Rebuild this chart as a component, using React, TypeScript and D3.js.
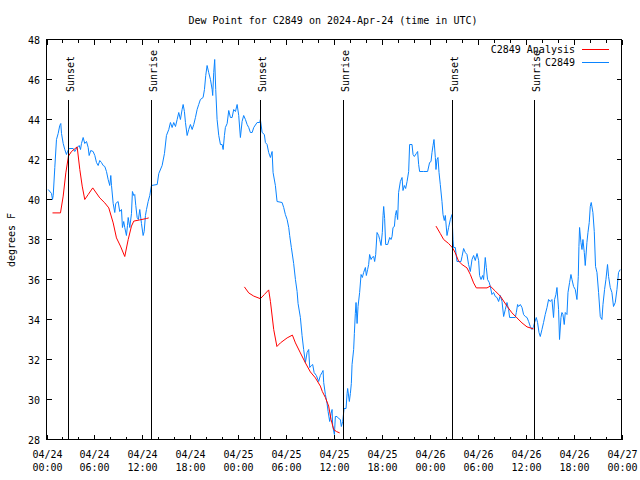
import React from "react";
import * as d3 from "d3";

// hours since 2024-04-24 00:00 UTC, dew point (F)
const stationSeries: [number, number][] = [
  [0.21,40.5],[0.63,40.3],[0.75,40.0],[0.84,40.2],[1.04,41.6],[1.25,43.0],[1.46,43.3],[1.66,43.7],[1.79,43.8],[1.88,43.3],
  [2.09,42.8],[2.29,42.5],[2.5,42.25],[2.63,42.4],[2.84,42.55],[3.34,42.55],[3.54,42.4],[3.84,42.6],[4.09,42.7],[4.26,42.5],
  [4.38,42.8],[4.59,43.1],[4.79,42.8],[5.01,42.9],[5.22,42.6],[5.34,42.2],[5.54,42.45],[5.84,42.4],[6.05,42.2],[6.26,41.85],
  [6.47,41.7],[6.67,41.95],[6.88,41.85],[7.1,41.7],[7.3,41.65],[7.51,41.4],[7.72,41.0],[7.92,40.7],[8.05,41.2],[8.14,40.7],
  [8.35,39.8],[8.55,39.35],[8.67,39.8],[8.97,39.9],[9.17,39.4],[9.39,39.5],[9.51,38.6],[9.67,38.9],[9.8,38.6],[10.01,38.2],
  [10.14,38.7],[10.23,39.1],[10.43,38.6],[10.64,39.3],[10.76,40.4],[10.93,40.2],[11.05,40.25],[11.18,39.7],[11.35,39.1],[11.51,39.0],
  [11.68,39.5],[11.89,38.8],[12.1,38.2],[12.23,38.4],[12.39,39.2],[12.52,39.5],[12.73,39.9],[12.93,40.2],[13.14,40.7],[13.86,40.75],
  [14.06,41.3],[14.48,41.7],[14.77,42.3],[15.02,43.2],[15.31,43.5],[15.52,43.85],[15.73,43.6],[15.93,43.85],[16.15,43.65],[16.36,44.0],
  [16.56,44.35],[16.77,44.0],[16.98,44.5],[17.11,44.75],[17.27,44.4],[17.4,43.85],[17.61,43.2],[17.81,43.5],[18.02,43.75],[18.24,43.5],
  [18.44,43.75],[18.65,44.1],[18.86,44.5],[19.06,44.75],[19.27,45.0],[19.61,45.1],[19.78,45.5],[19.94,46.2],[20.11,46.7],[20.31,46.35],
  [20.53,46.0],[20.74,45.5],[20.81,45.2],[20.94,46.35],[21.06,47.0],[21.19,45.5],[21.36,44.0],[21.57,43.2],[21.78,42.75],[21.99,42.75],
  [22.12,42.5],[22.28,43.2],[22.4,43.6],[22.62,43.8],[22.82,44.45],[23.03,44.1],[23.24,44.1],[23.44,44.5],[23.66,44.4],[23.87,44.75],
  [24.07,44.2],[24.28,43.1],[24.49,43.9],[24.69,44.2],[24.91,44.0],[25.12,43.75],[25.32,43.6],[25.53,43.35],[25.75,43.35],[25.95,43.6],
  [26.37,43.85],[26.7,43.85],[26.78,44.0],[27.0,43.35],[27.28,43.25],[27.41,42.85],[27.62,42.75],[27.82,42.35],[28.04,42.1],[28.25,42.4],
  [28.37,41.35],[28.66,40.7],[28.87,39.9],[29.5,39.85],[29.7,39.6],[29.91,39.25],[30.13,39.0],[30.33,38.6],[30.45,38.2],[30.66,37.6],
  [30.95,36.8],[31.17,36.0],[31.38,35.4],[31.5,34.8],[31.79,34.1],[32.0,33.2],[32.2,32.5],[32.42,31.85],[32.63,32.35],[32.83,32.5],
  [32.96,31.6],[33.17,31.7],[33.33,31.75],[33.51,31.35],[33.79,31.2],[34.08,30.9],[34.29,31.2],[34.5,31.35],[34.63,31.45],[34.71,30.85],
  [34.92,30.25],[35.13,29.8],[35.26,29.4],[35.46,28.9],[35.63,29.3],[35.76,29.5],[35.83,28.7],[36.05,28.25],[36.17,29.15],[36.38,29.15],
  [36.58,29.05],[36.8,29.0],[36.92,28.65],[37.09,28.9],[37.26,29.55],[37.51,29.55],[37.64,30.3],[37.71,30.55],[37.92,29.9],[38.05,30.3],
  [38.17,30.8],[38.26,31.75],[38.46,32.5],[38.55,33.3],[38.67,34.3],[38.76,34.85],[38.89,33.8],[39.01,34.65],[39.21,35.35],[39.39,36.25],
  [39.55,36.1],[39.71,36.35],[39.93,36.6],[40.05,36.2],[40.21,36.5],[40.34,36.75],[40.46,37.25],[40.64,37.0],[40.76,37.1],[40.97,37.15],
  [41.09,36.9],[41.22,37.25],[41.39,38.35],[41.59,38.2],[41.72,38.0],[41.89,37.7],[42.05,38.35],[42.14,39.2],[42.22,39.65],[42.34,39.05],
  [42.47,37.75],[42.72,37.75],[42.97,38.1],[43.14,38.0],[43.27,38.15],[43.39,38.6],[43.56,38.65],[43.68,39.2],[43.81,39.45],[43.97,39.0],
  [44.09,40.35],[44.31,40.9],[44.52,41.1],[44.64,40.45],[44.81,40.7],[44.97,40.55],[45.15,40.9],[45.35,41.4],[45.47,42.75],[45.77,42.75],
  [45.9,42.25],[46.06,42.15],[46.31,42.3],[46.47,42.4],[46.6,41.75],[46.72,41.4],[47.22,41.4],[47.72,41.4],[47.97,41.85],[48.15,41.9],
  [48.27,42.35],[48.4,42.7],[48.52,43.0],[48.69,42.1],[48.77,41.5],[48.9,42.0],[49.02,42.1],[49.15,41.35],[49.31,40.75],[49.52,39.9],
  [49.65,39.25],[49.81,38.95],[49.94,39.2],[50.15,38.2],[50.35,38.6],[50.57,39.0],[50.78,39.25],[50.9,38.0],[50.98,37.6],[51.19,37.6],
  [51.4,36.9],[51.9,36.9],[52.03,37.15],[52.23,37.55],[52.44,37.35],[52.65,37.25],[52.85,36.75],[53.07,36.4],[53.28,37.0],[53.48,37.2],
  [53.69,36.95],[53.91,37.3],[54.11,36.95],[54.23,36.2],[54.41,36.0],[54.61,36.2],[54.73,36.0],[54.94,37.1],[55.07,36.6],[55.23,36.0],
  [55.44,35.85],[55.57,35.65],[55.78,35.25],[55.98,35.35],[56.2,35.15],[56.41,35.1],[56.61,34.9],[56.82,35.2],[57.04,34.9],[57.24,34.15],
  [57.45,34.5],[57.66,34.85],[57.86,34.5],[57.99,34.1],[58.7,34.1],[58.83,34.35],[58.99,34.75],[59.11,34.65],[59.33,34.75],[59.54,34.6],
  [59.74,34.25],[59.95,34.15],[60.17,34.1],[60.37,33.9],[60.58,33.65],[60.79,33.5],[60.99,33.65],[61.12,33.85],[61.33,34.1],[61.49,33.85],
  [61.67,33.35],[61.83,33.15],[62.04,33.5],[62.24,33.85],[62.45,34.25],[62.67,34.6],[62.87,35.0],[63.08,34.9],[63.29,35.0],[63.49,34.1],
  [63.62,35.0],[63.79,35.25],[63.92,35.6],[64.12,34.5],[64.24,33.0],[64.42,34.1],[64.54,34.35],[64.67,34.25],[64.83,33.75],[64.96,34.35],
  [65.17,34.25],[65.3,35.35],[65.5,35.85],[65.67,36.25],[65.8,36.0],[66.0,35.65],[66.21,35.5],[66.42,35.0],[66.59,36.15],[66.67,37.65],
  [66.75,38.6],[66.92,37.85],[67.05,37.5],[67.17,38.0],[67.34,37.35],[67.46,36.7],[67.67,37.85],[67.8,38.35],[67.96,38.85],[68.09,39.65],
  [68.21,39.85],[68.42,39.35],[68.59,38.4],[68.75,36.65],[68.93,36.35],[69.13,35.35],[69.34,34.15],[69.55,34.0],[69.68,34.75],[69.88,35.5],
  [70.05,36.0],[70.25,36.75],[70.38,36.15],[70.59,35.6],[70.8,35.35],[71.0,34.65],[71.22,34.85],[71.43,35.5],[71.63,36.35],[71.84,36.5],
];

const analysisSeg1: [number, number][] = [
  [0.75,39.33],[1.75,39.33],[2.09,40.17],[2.42,41.33],[2.75,42.17],[3.13,42.4],[3.84,42.63],[4.17,41.5],[4.47,40.67],[4.79,40.0],
  [5.22,40.25],[5.79,40.58],[6.67,40.08],[7.3,39.83],[7.8,39.58],[8.35,38.83],[8.76,38.08],[9.26,37.67],[9.8,37.15],[10.23,38.0],
  [10.64,38.67],[10.93,38.92],[11.68,38.98],[12.52,39.05],[12.8,39.08],
];
const analysisSeg2: [number, number][] = [
  [24.78,35.63],[25.32,35.33],[25.95,35.17],[26.78,35.04],[27.28,35.25],[27.82,35.48],[28.04,34.9],[28.45,33.5],[28.85,32.65],[29.29,32.83],
  [30.13,33.08],[30.79,33.22],[31.17,32.83],[31.79,32.33],[32.42,31.83],[33.04,31.38],[33.67,31.08],[34.29,30.67],[34.54,30.4],[34.92,30.1],
  [35.33,29.67],[35.63,29.0],[35.96,28.5],[36.3,28.4],[36.71,28.33],
];
const analysisSeg3: [number, number][] = [
  [48.77,38.67],[49.31,38.3],[49.73,38.0],[50.35,37.8],[50.85,37.58],[51.19,37.33],[51.6,36.92],[52.03,36.75],[52.65,36.58],[53.07,36.25],
  [53.48,35.83],[53.82,35.58],[55.16,35.58],[55.57,35.67],[56.2,35.42],[56.82,35.17],[57.66,34.67],[58.29,34.33],[58.91,34.08],[59.54,33.83],
  [60.17,33.63],[60.99,33.53],
];

const sunsetHours = [2.75, 26.85, 50.85];
const sunriseHours = [13.18, 37.21, 61.14];
const yTicks = [28, 30, 32, 34, 36, 38, 40, 42, 44, 46, 48];

const titleText = "Dew Point for C2849 on 2024-Apr-24 (time in UTC)";
const yLabel = "degrees F";
const legendLabels = ["C2849 Analysis", "C2849"];

const t0 = Date.UTC(2024, 3, 24);
const toDate = (h: number) => new Date(t0 + h * 3600000);

const FONT = "'DejaVu Sans Mono', monospace";
const RED = "#ff0000";
const BLUE = "#0a84ff";

export default function App() {
  const left = 46.5, right = 621.5, top = 39.5, bottom = 439.5;
  const x = d3.scaleUtc().domain([toDate(0), toDate(72)]).range([left, right]);
  const y = d3.scaleLinear().domain([28, 48]).range([bottom, top]);
  const line = d3
    .line<[number, number]>()
    .x((d) => x(toDate(d[0])))
    .y((d) => y(d[1]));
  const major = x.ticks(d3.utcHour.every(6)!);
  const minor = x.ticks(d3.utcHour.every(2)!);
  const fmtD = d3.utcFormat("%m/%d");
  const fmtT = d3.utcFormat("%H:%M");
  const events = [
    ...sunsetHours.map((h) => ({ h, label: "Sunset" })),
    ...sunriseHours.map((h) => ({ h, label: "Sunrise" })),
  ];
  return (
    <svg width={640} height={480} style={{ position: "absolute", left: 0, top: 0, background: "#fff" }}
      fontFamily={FONT} fontSize={10}>
      <rect x={0} y={0} width={640} height={480} fill="#fff" />
      <text x={333} y={24} textAnchor="middle">{titleText}</text>
      <text transform={`translate(15,240) rotate(-90)`} textAnchor="middle">{yLabel}</text>
      {/* data */}
      <g fill="none" strokeWidth={1}>
        <path d={line(stationSeries) || ""} stroke={BLUE} />
        {[analysisSeg1, analysisSeg2, analysisSeg3].map((s, i) => (
          <path key={i} d={line(s) || ""} stroke={RED} />
        ))}
      </g>
      {/* event lines */}
      {events.map((e, i) => {
        const xx = Math.floor(x(toDate(e.h))) + 0.5;
        return (
          <g key={i}>
            <line x1={xx} x2={xx} y1={99.5} y2={bottom} stroke="#000" shapeRendering="crispEdges" />
            <text transform={`translate(${xx + 5},92) rotate(-90)`}>{e.label}</text>
          </g>
        );
      })}
      {/* frame */}
      <rect x={left} y={top} width={right - left} height={bottom - top} fill="none" stroke="#000" shapeRendering="crispEdges" />
      {/* y ticks */}
      {yTicks.map((v) => (
        <g key={v} shapeRendering="crispEdges">
          <line x1={left} x2={left + 5} y1={y(v)} y2={y(v)} stroke="#000" />
          <line x1={right - 5} x2={right} y1={y(v)} y2={y(v)} stroke="#000" />
          <text x={40} y={y(v) + 4} textAnchor="end">{v}</text>
        </g>
      ))}
      {/* x ticks */}
      {minor.map((d, i) => {
        const xx = Math.round(x(d)) + 0.5;
        return (
          <g key={"m" + i} shapeRendering="crispEdges">
            <line x1={xx} x2={xx} y1={bottom} y2={bottom - 3} stroke="#000" />
            <line x1={xx} x2={xx} y1={top} y2={top + 3} stroke="#000" />
          </g>
        );
      })}
      {major.map((d, i) => {
        const xx = Math.round(x(d)) + 0.5;
        return (
          <g key={"M" + i}>
            <line x1={xx} x2={xx} y1={bottom} y2={bottom - 5} stroke="#000" shapeRendering="crispEdges" />
            <line x1={xx} x2={xx} y1={top} y2={top + 5} stroke="#000" shapeRendering="crispEdges" />
            <text x={xx} y={458} textAnchor="middle">{fmtD(d)}</text>
            <text x={xx} y={471} textAnchor="middle">{fmtT(d)}</text>
          </g>
        );
      })}
      {/* legend */}
      <text x={575} y={53} textAnchor="end">{legendLabels[0]}</text>
      <line x1={582} x2={609} y1={49.5} y2={49.5} stroke={RED} shapeRendering="crispEdges" />
      <text x={575} y={66} textAnchor="end">{legendLabels[1]}</text>
      <line x1={582} x2={609} y1={62.5} y2={62.5} stroke={BLUE} shapeRendering="crispEdges" />
    </svg>
  );
}
